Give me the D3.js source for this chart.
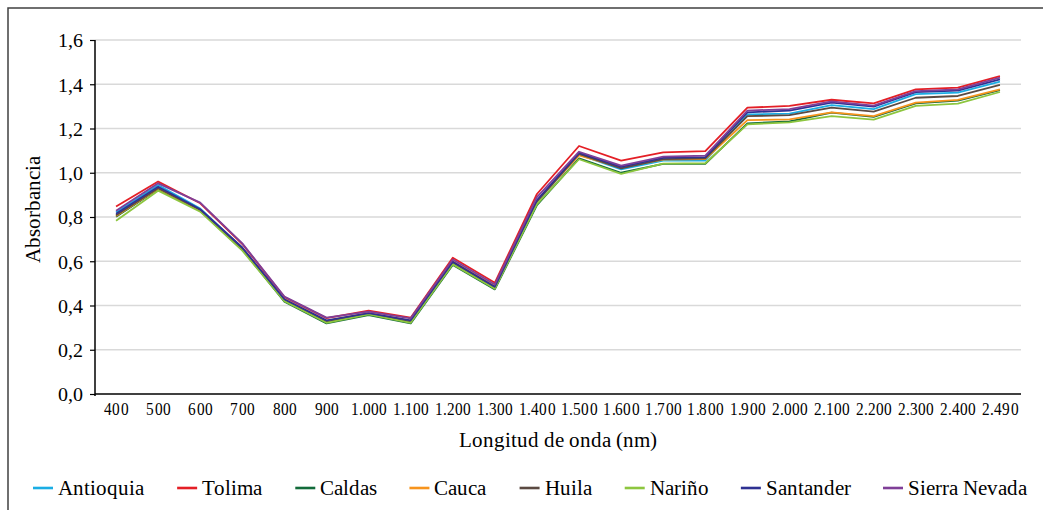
<!DOCTYPE html>
<html><head><meta charset="utf-8">
<script src="https://cdn.jsdelivr.net/npm/d3@7"></script>
<style>
@font-face{font-family:"ChartSerif";src:local("Liberation Serif"),local("LiberationSerif"),local("LiberationSerif-Regular"),local("Times New Roman"),local("DejaVu Serif"),local("DejaVuSerif");}
html,body{margin:0;padding:0;background:#fff;}
svg{display:block;}
</style></head>
<body>
<svg id="chart" width="1043" height="510"></svg>
<script>
const wavelengths = [400,500,600,700,800,900,1000,1100,1200,1300,1400,1500,1600,1700,1800,1900,2000,2100,2200,2300,2400,2490];
const yTicks = [0,0.2,0.4,0.6,0.8,1.0,1.2,1.4,1.6];
const seriesNames = ["Antioquia","Tolima","Caldas","Cauca","Huila","Nariño","Santander","Sierra Nevada"];
const seriesColors = ["#1aade4","#e41f26","#136b3a","#f7941d","#5b4a42","#8dc63f","#2e3192","#7f3f98"];

const antioquia    = [0.822,0.945,0.838,0.660,0.426,0.328,0.363,0.328,0.592,0.478,0.868,1.082,1.015,1.055,1.055,1.264,1.267,1.306,1.288,1.355,1.362,1.412];
const tolima       = [0.847,0.960,0.862,0.678,0.438,0.343,0.377,0.345,0.616,0.503,0.904,1.121,1.055,1.092,1.098,1.294,1.302,1.330,1.314,1.377,1.385,1.437];
const caldas       = [0.801,0.925,0.828,0.652,0.417,0.319,0.357,0.319,0.583,0.473,0.854,1.065,1.000,1.040,1.040,1.223,1.232,1.272,1.253,1.314,1.326,1.374];
const cauca        = [0.805,0.928,0.830,0.658,0.428,0.330,0.367,0.332,0.600,0.488,0.872,1.078,1.023,1.059,1.062,1.238,1.241,1.273,1.256,1.317,1.329,1.377];
const huila        = [0.808,0.930,0.832,0.657,0.424,0.326,0.362,0.326,0.595,0.480,0.870,1.085,1.020,1.062,1.065,1.256,1.260,1.294,1.276,1.339,1.347,1.397];
const narino       = [0.783,0.919,0.824,0.648,0.420,0.322,0.360,0.322,0.586,0.476,0.858,1.061,0.995,1.041,1.043,1.219,1.228,1.256,1.240,1.302,1.312,1.365];
const santander    = [0.815,0.937,0.835,0.662,0.428,0.333,0.366,0.333,0.598,0.485,0.876,1.090,1.027,1.067,1.071,1.273,1.281,1.317,1.299,1.364,1.371,1.422];
const sierraNevada = [0.828,0.952,0.865,0.681,0.440,0.345,0.372,0.342,0.608,0.495,0.890,1.095,1.032,1.073,1.077,1.281,1.288,1.323,1.303,1.369,1.377,1.430];

const seriesValues = [antioquia,tolima,caldas,cauca,huila,narino,santander,sierraNevada];

function draw(){
const FONT = "ChartSerif, 'Liberation Serif', 'Times New Roman', 'DejaVu Serif', serif";
const locale = d3.formatLocale({decimal:",",thousands:".",grouping:[3],currency:["","€"]});
const fmtY = locale.format(".1f");
const fmtX = locale.format(",d");

const svg = d3.select("#chart").style("font-family",FONT);
svg.selectAll("*").remove();
const mLeft = 95, mRight = 1021, mTop = 40, mBottom = 394;

// outer frame
svg.append("rect").attr("x",8).attr("y",8).attr("width",1060).attr("height",520)
  .attr("fill","none").attr("stroke","#404040").attr("stroke-width",1.5);

const x = d3.scalePoint().domain(wavelengths).range([mLeft,mRight]).padding(0.5);
const y = d3.scaleLinear().domain([0,1.6]).range([mBottom,mTop]);

// gridlines
svg.append("g").selectAll("line").data(yTicks.filter(d=>d>0)).join("line")
  .attr("x1",mLeft).attr("x2",mRight)
  .attr("y1",d=>y(d)).attr("y2",d=>y(d))
  .attr("stroke","#d9d9d9").attr("stroke-width",1.5);

// y axis
const yAxis = svg.append("g").attr("transform",`translate(${mLeft},0)`)
  .call(d3.axisLeft(y).tickValues(yTicks).tickFormat(fmtY).tickSize(5).tickPadding(7));
yAxis.attr("font-family",null).style("font-family",FONT);
yAxis.select(".domain").attr("stroke","#000").attr("stroke-width",1.5).attr("d",`M0,${mTop}V${mBottom+2}`);
yAxis.selectAll(".tick line").attr("stroke","#000").attr("stroke-width",1.2);
yAxis.selectAll(".tick text").attr("font-size",20).attr("fill","#000")
  .style("font-family",FONT).attr("dy","0.34em");

// x axis
const xAxis = svg.append("g").attr("transform",`translate(0,${mBottom})`)
  .call(d3.axisBottom(x).tickFormat(fmtX).tickSize(0).tickPadding(8));
xAxis.attr("font-family",null).style("font-family",FONT);
xAxis.select(".domain").attr("stroke","#000").attr("stroke-width",1.5).attr("d",`M${mLeft},0H${mRight}`);
xAxis.selectAll(".tick text").attr("font-size",18).attr("fill","#000")
  .style("font-family",FONT).attr("transform","scale(0.85,1)").attr("dy","0.71em");

// lines
const line = d3.line().x((d,i)=>x(wavelengths[i])).y(d=>y(d));
svg.append("g").selectAll("path").data(seriesValues).join("path")
  .attr("d",d=>line(d)).attr("fill","none")
  .attr("stroke",(d,i)=>seriesColors[i]).attr("stroke-width",1.8)
  .attr("stroke-linejoin","round");

// axis titles
svg.append("text").attr("x",558).attr("y",447).attr("text-anchor","middle")
  .style("font-family",FONT).attr("font-size",21).attr("fill","#000").text("Longitud de onda (nm)");
svg.append("text").attr("transform","translate(40,209) rotate(-90)").attr("text-anchor","middle")
  .style("font-family",FONT).attr("font-size",21).attr("fill","#000").text("Absorbancia");

// legend
const lg = svg.append("g");
const items = lg.selectAll("g").data(seriesNames).join("g");
items.append("line").attr("x1",0).attr("x2",20).attr("y1",0).attr("y2",0)
  .attr("stroke",(d,i)=>seriesColors[i]).attr("stroke-width",2.6);
items.append("text").attr("x",25).attr("y",6.5).style("font-family",FONT)
  .attr("font-size",21).attr("fill","#000").text(d=>d);
const widths = items.nodes().map(n=>n.getBBox().width);
const startX = 33, endX = 1028;
const gap = (endX - startX - d3.sum(widths)) / (seriesNames.length-1);
let cx = startX;
items.each(function(d,i){
  d3.select(this).attr("transform",`translate(${cx},488)`);
  cx += widths[i] + gap;
});
}
draw();
if (document.fonts && document.fonts.load) {
  document.fonts.load("21px ChartSerif").then(draw).catch(()=>{});
}
</script>
</body></html>
